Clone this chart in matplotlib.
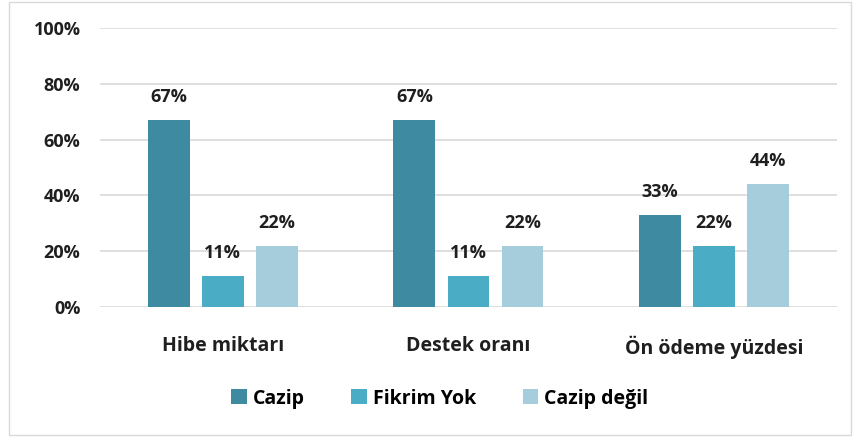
import numpy as np
import matplotlib
matplotlib.use("Agg")
import matplotlib.pyplot as plt
from matplotlib.patches import Rectangle

plt.rcParams['font.family'] = ['Open Sans', 'DejaVu Sans']

categories = ["Hibe miktarı", "Destek oranı", "Ön ödeme yüzdesi"]
series = ["Cazip", "Fikrim Yok", "Cazip değil"]
cazip = [0.67, 0.67, 0.33]
fikrim_yok = [0.11, 0.11, 0.22]
cazip_degil = [0.22, 0.22, 0.44]
yticks = [0, 0.2, 0.4, 0.6, 0.8, 1.0]

COLORS = ["#3E8AA0", "#4BACC6", "#A6CDDB"]
TEXT = "#1F1F1F"

fig = plt.figure(figsize=(8.54, 4.37), dpi=100)
fig.patch.set_facecolor("white")
fig.add_artist(Rectangle((0.011, 0.005), 0.985, 0.99, transform=fig.transFigure,
                         fill=False, edgecolor="#D9D9D9", linewidth=1.0))

ax = fig.add_axes([0.117, 0.298, 0.863, 0.637])

x = np.arange(len(categories))
offsets = [-0.22, 0.0, 0.22]
width = 0.17

for vals, off, col, name in zip([cazip, fikrim_yok, cazip_degil], offsets, COLORS, series):
    bars = ax.bar(x + off, vals, width=width, color=col, label=name, zorder=3)
    for b, v in zip(bars, vals):
        ax.text(b.get_x() + b.get_width() / 2, v + 0.05, f"{round(v * 100):.0f}%",
                ha="center", va="bottom", fontsize=13, fontweight="bold", color=TEXT)

ax.set_xlim(-0.5, 2.5)
ax.set_ylim(0, 1.0)
ax.set_yticks(yticks)
ax.set_yticklabels([f"{int(t * 100)}%" for t in yticks], fontsize=13,
                   fontweight="bold", color=TEXT)
ax.set_xticks(x)
ax.set_xticklabels(categories, fontsize=14, fontweight="bold", color=TEXT)
ax.tick_params(axis="both", length=0)
ax.tick_params(axis="y", pad=14)
ax.tick_params(axis="x", pad=21)
ax.grid(True, axis="y", color="#D9D9D9", linewidth=1.2, zorder=0)
for s in ax.spines.values():
    s.set_visible(False)

fig.legend(loc="center", bbox_to_anchor=(0.515, 0.088), ncol=3, frameon=False,
           prop={"size": 14, "weight": "bold"}, handlelength=0.8,
           handleheight=0.8, handletextpad=0.3, columnspacing=2.4)

fig.savefig("out.png", dpi=100, facecolor="white")
